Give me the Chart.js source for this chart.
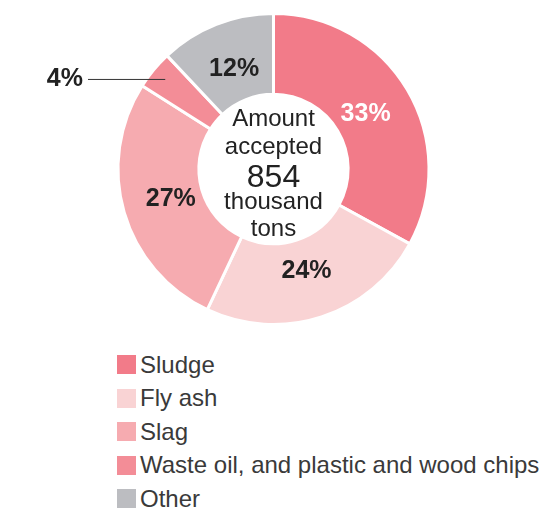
<!DOCTYPE html>
<html>
<head>
<meta charset="utf-8">
<script src="https://cdn.jsdelivr.net/npm/chart.js@4.4.1/dist/chart.umd.min.js"></script>
<style>
  body { margin: 0; background: #fff; font-family: 'Liberation Sans', Arial, sans-serif; }
  #wrap { position: relative; width: 547px; height: 508px; }
  #box { position: absolute; left: 0; top: 0; width: 547px; height: 340px; }
  #legend { position: absolute; left: 117px; top: 348px; }
  .item { height: 33.5px; display: flex; align-items: center; }
  .sw { width: 19px; height: 19px; margin-right: 4px; }
  .lbl { font-size: 24px; color: #3a3a3a; white-space: nowrap; }
</style>
</head>
<body>
<div id="wrap">
  <div id="box"><canvas id="chart"></canvas></div>
  <div id="legend"></div>
</div>
<script>
var categories = ['Sludge', 'Fly ash', 'Slag', 'Waste oil, and plastic and wood chips', 'Other'];
var shares = [33, 24, 27, 4, 12];
var colors = ['#f27b89', '#f9d3d4', '#f6abb0', '#f38d97', '#bcbdc1'];
var labelColors = ['#ffffff', '#222222', '#222222', '#222222', '#222222'];
var centerLines = ['Amount', 'accepted', '854', 'thousand', 'tons'];

var labelPlugin = {
  id: 'labels',
  afterDatasetsDraw: function (chart) {
    var ctx = chart.ctx;
    var meta = chart.getDatasetMeta(0);
    ctx.save();
    meta.data.forEach(function (arc, i) {
      var p = arc.getProps(['x', 'y', 'startAngle', 'endAngle', 'outerRadius', 'innerRadius'], true);
      var mid = (p.startAngle + p.endAngle) / 2;
      var text = shares[i] + '%';
      ctx.font = 'bold 25px "Liberation Sans", Arial, sans-serif';
      ctx.textBaseline = 'middle';
      if (shares[i] < 5) {
        // small slice: leader line out to the left
        var r = p.outerRadius - 15;
        var px = p.x + Math.cos(mid) * r;
        var py = p.y + Math.sin(mid) * r;
        var endX = p.x - p.outerRadius - 30;
        ctx.strokeStyle = '#333';
        ctx.lineWidth = 1;
        ctx.beginPath();
        ctx.moveTo(px, py);
        ctx.lineTo(endX, py);
        ctx.stroke();
        ctx.fillStyle = '#222';
        ctx.textAlign = 'right';
        ctx.fillText(text, endX - 5, py);
      } else {
        var rr = 107;
        ctx.fillStyle = labelColors[i];
        ctx.textAlign = 'center';
        ctx.fillText(text, p.x + Math.cos(mid) * rr, p.y + Math.sin(mid) * rr);
      }
    });
    // centre text
    var cx = meta.data[0].x, cy = meta.data[0].y;
    var offsets = [-50, -22, 9, 33, 60];
    ctx.fillStyle = '#222';
    ctx.textAlign = 'center';
    centerLines.forEach(function (t, i) {
      ctx.font = (i == 2 ? '32px' : '24px') + ' "Liberation Sans", Arial, sans-serif';
      ctx.fillText(t, cx, cy + offsets[i]);
    });
    ctx.restore();
  }
};

var chart = new Chart(document.getElementById('chart'), {
  type: 'doughnut',
  data: {
    labels: categories,
    datasets: [{
      data: shares,
      backgroundColor: colors,
      borderColor: '#ffffff',
      borderWidth: 3
    }]
  },
  options: {
    responsive: true,
    maintainAspectRatio: false,
    animation: false,
    cutout: '48%',
    layout: { padding: { top: 12, bottom: 14 } },
    plugins: {
      legend: { display: false },
      tooltip: { enabled: false }
    }
  },
  plugins: [labelPlugin]
});

var legend = document.getElementById('legend');
categories.forEach(function (name, i) {
  var row = document.createElement('div');
  row.className = 'item';
  row.innerHTML = '<div class="sw" style="background:' + colors[i] + '"></div><span class="lbl">' + name + '</span>';
  legend.appendChild(row);
});
</script>
</body>
</html>
